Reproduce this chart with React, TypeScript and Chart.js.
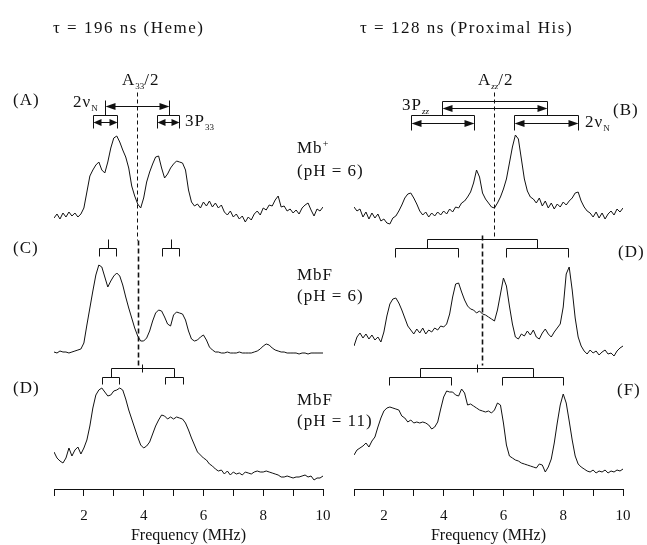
import React, { useEffect, useRef } from "react";
import { Chart, registerables } from "chart.js";

Chart.register(...registerables);

const W = 647;
const H = 545;
const SERIF = '"Liberation Serif", "Times New Roman", serif';

// Frequency sampling (MHz)
const FREQ_MHZ = [
  1.0, 1.1, 1.2, 1.3, 1.4, 1.5, 1.6, 1.7, 1.8, 1.9,
  2.0, 2.1, 2.2, 2.3, 2.4, 2.5, 2.6, 2.7, 2.8, 2.9,
  3.0, 3.1, 3.2, 3.3, 3.4, 3.5, 3.6, 3.7, 3.8, 3.9,
  4.0, 4.1, 4.2, 4.3, 4.4, 4.5, 4.6, 4.7, 4.8, 4.9,
  5.0, 5.1, 5.2, 5.3, 5.4, 5.5, 5.6, 5.7, 5.8, 5.9,
  6.0, 6.1, 6.2, 6.3, 6.4, 6.5, 6.6, 6.7, 6.8, 6.9,
  7.0, 7.1, 7.2, 7.3, 7.4, 7.5, 7.6, 7.7, 7.8, 7.9,
  8.0, 8.1, 8.2, 8.3, 8.4, 8.5, 8.6, 8.7, 8.8, 8.9,
  9.0, 9.1, 9.2, 9.3, 9.4, 9.5, 9.6, 9.7, 9.8, 9.9,
  10.0,
];

// (A) Heme, Mb+ pH 6
const HEME_MBPLUS_PH6 = [
  2, 6, 1, 7, 3, 8, 4, 7, 3, 6,
  12, 28, 44, 50, 55, 58, 50, 47, 58, 72,
  82, 84, 78, 70, 63, 52, 34, 24, 16, 12,
  22, 38, 48, 56, 63, 64, 52, 42, 46, 52,
  56, 59, 58, 57, 50, 30, 18, 14, 16, 12,
  18, 14, 19, 13, 17, 12, 15, 8, 5, 9,
  3, 6, 1, 4, -2, 3, 0, 6, 9, 5,
  12, 10, 15, 14, 20, 24, 13, 14, 9, 11,
  7, 10, 6, 12, 15, 17, 10, 4, 11, 9,
  13,
];
// (B) Proximal His, Mb+ pH 6
const HIS_MBPLUS_PH6 = [
  8, 4, 6, -2, 3, -4, 2, -3, 1, -6,
  -4, -8, -9, -3, -1, 4, 10, 17, 21, 22,
  17, 11, 4, 0, 3, -2, 2, -1, 3, 0,
  4, 1, 6, 3, 8, 7, 12, 14, 18, 23,
  32, 45, 38, 22, 16, 12, 8, 7, 12, 18,
  26, 36, 52, 68, 80, 76, 56, 36, 24, 18,
  16, 12, 17, 9, 14, 7, 12, 6, 11, 8,
  13, 10, 14, 17, 22, 23, 14, 8, 4, 2,
  -2, 3, -3, 2, -4, 1, 4, 0, 6, 3,
  7,
];
// (C) Heme, MbF pH 6
const HEME_MBF_PH6 = [
  1, 0, 2, 1, 1, 0, 1, 2, 3, 4,
  10, 28, 45, 62, 78, 88, 86, 76, 66, 72,
  77, 80, 77, 68, 56, 45, 35, 25, 17, 12,
  12, 15, 22, 32, 40, 43, 42, 36, 29, 27,
  38, 41, 40, 39, 33, 22, 14, 12, 13, 16,
  18, 13, 6, 3, 1, 1, 0, 0, 1, 0,
  0, 0, 1, 0, 0, 0, 0, 1, 2, 4,
  7, 9, 8, 5, 3, 2, 1, 1, 0, 0,
  0, 0, -1, 0, 0, -1, 0, 0, 0, 0,
  0,
];
// (D) Proximal His, MbF pH 6
const HIS_MBF_PH6 = [
  6, 15, 19, 14, 18, 13, 17, 12, 15, 10,
  20, 36, 48, 53, 54, 49, 42, 34, 26, 22,
  18, 23, 19, 24, 18, 22, 20, 24, 22, 26,
  25, 28, 38, 55, 68, 69, 60, 52, 46, 43,
  42, 39, 41, 38, 37, 35, 33, 31, 42, 58,
  74, 66, 46, 28, 15, 13, 18, 16, 21, 17,
  22, 15, 13, 19, 23, 18, 15, 20, 24, 28,
  45, 78, 85, 62, 34, 15, 6, 1, -2, 2,
  -1, 1, -3, 0, 2, -2, -1, -4, 1, 4,
  6,
];
// (D) Heme, MbF pH 11
const HEME_MBF_PH11 = [
  26, 20, 17, 15, 20, 30, 22, 28, 31, 24,
  30, 38, 52, 70, 83, 88, 90, 86, 82, 83,
  87, 88, 90, 88, 79, 68, 59, 50, 41, 33,
  30, 32, 36, 44, 52, 58, 63, 62, 59, 61,
  59, 61, 60, 59, 55, 48, 40, 33, 26, 23,
  20, 18, 14, 12, 9, 7, 8, 4, 7, 3,
  6, 4, 5, 3, 6, 5, 4, 6, 7, 6,
  6, 7, 6, 5, 4, 3, 1, 1, 2, 1,
  0, 1, 1, 2, 3, 1, 2, -2, 0, 0,
  2,
];
// (F) Proximal His, MbF pH 11
const HIS_MBF_PH11 = [
  18, 23, 25, 27, 30, 26, 32, 36, 46, 55,
  62, 65, 66, 65, 64, 63, 57, 55, 51, 53,
  50, 51, 50, 51, 50, 48, 44, 46, 51, 64,
  76, 82, 81, 81, 78, 77, 84, 80, 68, 69,
  67, 65, 63, 62, 61, 62, 60, 63, 70, 68,
  50, 28, 17, 15, 13, 12, 10, 9, 8, 7,
  6, 5, 9, 8, 1, 6, 14, 30, 50, 68,
  79, 70, 52, 33, 17, 9, 6, 4, 2, 1,
  3, 0, 2, 1, 3, 0, 2, 1, 3, 2,
  4,
];

const AXIS_MIN = 1;
const AXIS_MAX = 10;
const AXIS_LABELED_TICKS = [2, 4, 6, 8, 10];
const AXIS_TITLE = "Frequency (MHz)";

// vertical extent of the hidden stacking axis
const Y_MAX = 489;
const X_AXIS_HEIGHT = 56;

type Pt = [number, number];
type Shape =
  | { type: "line"; pts: Pt[] }
  | { type: "dash"; x: number; y1: number; y2: number; width: number; dash: number[] }
  | { type: "arrow"; x1: number; x2: number; y: number; head: number; half: number };

const box = (x1: number, x2: number, top: number, bottom: number): Shape => ({
  type: "line",
  pts: [[x1, bottom], [x1, top], [x2, top], [x2, bottom]],
});
const seg = (x1: number, y1: number, x2: number, y2: number): Shape => ({
  type: "line",
  pts: [[x1, y1], [x2, y2]],
});

const LEFT_SHAPES: Shape[] = [
  { type: "dash", x: 3.78, y1: 397, y2: 249, width: 1, dash: [4, 3] },
  { type: "dash", x: 3.82, y1: 249, y2: 123, width: 1.6, dash: [5, 3] },
  // (A) splitting markers
  { type: "arrow", x1: 2.71, x2: 4.85, y: 383, head: 10, half: 3.5 },
  seg(2.71, 389, 2.71, 374),
  seg(4.85, 389, 4.85, 374),
  box(2.3, 3.1, 374, 361),
  box(4.45, 5.18, 374, 361),
  { type: "arrow", x1: 2.3, x2: 3.1, y: 367, head: 8, half: 3.5 },
  { type: "arrow", x1: 4.45, x2: 5.18, y: 367, head: 8, half: 3.5 },
  // (C)
  box(2.5, 3.07, 241, 233),
  seg(2.79, 241, 2.79, 250),
  box(4.6, 5.19, 241, 233),
  seg(4.9, 241, 4.9, 250),
  // (D) pH 11
  box(2.91, 5.01, 121, 112),
  seg(3.94, 125, 3.94, 117),
  box(2.61, 3.17, 112, 105),
  box(4.71, 5.32, 112, 105),
];

const RIGHT_SHAPES: Shape[] = [
  { type: "dash", x: 5.68, y1: 397, y2: 253, width: 1, dash: [4, 3] },
  { type: "dash", x: 5.28, y1: 254, y2: 124, width: 1.6, dash: [5, 3] },
  // (B)
  box(3.94, 7.45, 388, 374),
  { type: "arrow", x1: 3.94, x2: 7.45, y: 381, head: 10, half: 3.5 },
  box(2.91, 5.01, 374, 359),
  { type: "arrow", x1: 2.91, x2: 5.01, y: 366, head: 10, half: 3.5 },
  box(6.35, 8.49, 374, 359),
  { type: "arrow", x1: 6.35, x2: 8.49, y: 366, head: 10, half: 3.5 },
  // (D)
  box(3.44, 7.12, 250, 241),
  box(2.37, 4.48, 241, 232),
  box(6.09, 8.16, 241, 232),
  // (F)
  box(3.21, 6.99, 121, 112),
  seg(5.11, 125, 5.11, 117),
  box(2.17, 4.25, 112, 104),
  box(5.95, 7.99, 112, 104),
];

const LEFT_ROWS = [
  { values: HEME_MBPLUS_PH6, baseline: 269 },
  { values: HEME_MBF_PH6, baseline: 136 },
  { values: HEME_MBF_PH11, baseline: 11 },
];
const RIGHT_ROWS = [
  { values: HIS_MBPLUS_PH6, baseline: 274 },
  { values: HIS_MBF_PH6, baseline: 137 },
  { values: HIS_MBF_PH11, baseline: 16 },
];

function drawShapes(chart: any, shapes: Shape[]) {
  const ctx: CanvasRenderingContext2D = chart.ctx;
  const xs = chart.scales.x;
  const ys = chart.scales.y;
  const X = (v: number) => Math.round(xs.getPixelForValue(v)) + 0.5;
  const Y = (v: number) => Math.round(ys.getPixelForValue(v)) + 0.5;
  ctx.save();
  ctx.strokeStyle = "#111";
  ctx.fillStyle = "#111";
  for (const s of shapes) {
    ctx.setLineDash([]);
    ctx.lineWidth = 1;
    if (s.type === "line") {
      ctx.beginPath();
      s.pts.forEach(([x, y], i) => (i ? ctx.lineTo(X(x), Y(y)) : ctx.moveTo(X(x), Y(y))));
      ctx.stroke();
    } else if (s.type === "dash") {
      ctx.lineWidth = s.width;
      ctx.setLineDash(s.dash);
      ctx.beginPath();
      ctx.moveTo(X(s.x), Y(s.y1));
      ctx.lineTo(X(s.x), Y(s.y2));
      ctx.stroke();
    } else if (s.type === "arrow") {
      const a = X(s.x1);
      const b = X(s.x2);
      const y = Y(s.y);
      ctx.beginPath();
      ctx.moveTo(a + s.head - 1, y);
      ctx.lineTo(b - s.head + 1, y);
      ctx.stroke();
      ctx.beginPath();
      ctx.moveTo(a, y);
      ctx.lineTo(a + s.head, y - s.half);
      ctx.lineTo(a + s.head, y + s.half);
      ctx.closePath();
      ctx.fill();
      ctx.beginPath();
      ctx.moveTo(b, y);
      ctx.lineTo(b - s.head, y - s.half);
      ctx.lineTo(b - s.head, y + s.half);
      ctx.closePath();
      ctx.fill();
    }
  }
  ctx.restore();
}

function PanelChart({
  rows,
  shapes,
  padLeft,
  padRight,
}: {
  rows: { values: number[]; baseline: number }[];
  shapes: Shape[];
  padLeft: number;
  padRight: number;
}) {
  const ref = useRef<HTMLCanvasElement>(null);
  useEffect(() => {
    if (!ref.current) return;
    const chart = new Chart(ref.current, {
      type: "line",
      data: {
        datasets: rows.map((r) => ({
          data: FREQ_MHZ.map((f, i) => ({ x: f, y: r.baseline + r.values[i] })),
          borderColor: "#111",
          borderWidth: 1,
          pointRadius: 0,
          fill: false,
          tension: 0,
        })),
      },
      options: {
        responsive: false,
        animation: false,
        devicePixelRatio: 1,
        events: [],
        layout: { padding: { left: padLeft, right: padRight, top: 0, bottom: 0 } },
        plugins: {
          legend: { display: false },
          tooltip: { enabled: false },
          title: { display: false },
        },
        scales: {
          x: {
            type: "linear",
            min: AXIS_MIN,
            max: AXIS_MAX,
            afterFit: (scale: any) => {
              scale.height = X_AXIS_HEIGHT;
            },
            ticks: {
              stepSize: 1,
              autoSkip: false,
              maxRotation: 0,
              padding: 11,
              color: "#111",
              font: { family: SERIF, size: 15 },
              callback: (v: any) =>
                AXIS_LABELED_TICKS.includes(Math.round(Number(v))) ? String(Math.round(Number(v))) : "",
            },
            grid: {
              drawOnChartArea: false,
              drawTicks: true,
              tickLength: 7,
              color: "#111",
              lineWidth: 1,
            },
            border: { display: true, color: "#111", width: 1 },
            title: {
              display: true,
              text: AXIS_TITLE,
              color: "#111",
              font: { family: SERIF, size: 16 },
              padding: { top: 0, bottom: 0 },
            },
          },
          y: { type: "linear", display: false, min: 0, max: Y_MAX },
        },
      },
      plugins: [{ id: "brackets", afterDatasetsDraw: (c: any) => drawShapes(c, shapes) }],
    } as any);
    return () => chart.destroy();
  }, []);
  return (
    <canvas
      ref={ref}
      width={W}
      height={H}
      style={{ position: "absolute", left: 0, top: 0, width: W, height: H }}
    />
  );
}

function Tag({
  x,
  y,
  size = 17,
  spacing = 1,
  children,
}: {
  x: number;
  y: number;
  size?: number;
  spacing?: number;
  children: React.ReactNode;
}) {
  return (
    <div
      style={{
        position: "absolute",
        left: x,
        top: y - 10,
        lineHeight: "20px",
        fontSize: size,
        letterSpacing: spacing,
        whiteSpace: "nowrap",
      }}
    >
      {children}
    </div>
  );
}

const sub = (t: string, italic = false) => (
  <span style={{ fontSize: 9, position: "relative", top: 4, letterSpacing: 0, fontStyle: italic ? "italic" : "normal" }}>
    {t}
  </span>
);

export default function App() {
  return (
    <div
      style={{
        position: "fixed",
        left: 0,
        top: 0,
        width: W,
        height: H,
        background: "#fff",
        overflow: "hidden",
        fontFamily: SERIF,
        color: "#111",
      }}
    >
      <PanelChart rows={LEFT_ROWS} shapes={LEFT_SHAPES} padLeft={54} padRight={W - 323} />
      <PanelChart rows={RIGHT_ROWS} shapes={RIGHT_SHAPES} padLeft={354} padRight={W - 623} />

      <Tag x={53} y={28} spacing={1.5}>τ = 196 ns (Heme)</Tag>
      <Tag x={360} y={28} spacing={1.5}>τ = 128 ns (Proximal His)</Tag>

      <Tag x={13} y={100}>(A)</Tag>
      <Tag x={613} y={110}>(B)</Tag>
      <Tag x={13} y={248}>(C)</Tag>
      <Tag x={618} y={252}>(D)</Tag>
      <Tag x={13} y={388}>(D)</Tag>
      <Tag x={617} y={390}>(F)</Tag>

      <Tag x={122} y={80}>A{sub("33")}/2</Tag>
      <Tag x={478} y={80}>A{sub("zz", true)}/2</Tag>
      <Tag x={73} y={102}>2ν{sub("N")}</Tag>
      <Tag x={185} y={121}>3P{sub("33")}</Tag>
      <Tag x={402} y={105}>3P{sub("zz", true)}</Tag>
      <Tag x={585} y={122}>2ν{sub("N")}</Tag>

      <Tag x={297} y={148}>
        Mb<span style={{ fontSize: 10, position: "relative", top: -6 }}>+</span>
      </Tag>
      <Tag x={297} y={171}>(pH = 6)</Tag>
      <Tag x={297} y={275}>MbF</Tag>
      <Tag x={297} y={296}>(pH = 6)</Tag>
      <Tag x={297} y={400}>MbF</Tag>
      <Tag x={297} y={421}>(pH = 11)</Tag>
    </div>
  );
}
